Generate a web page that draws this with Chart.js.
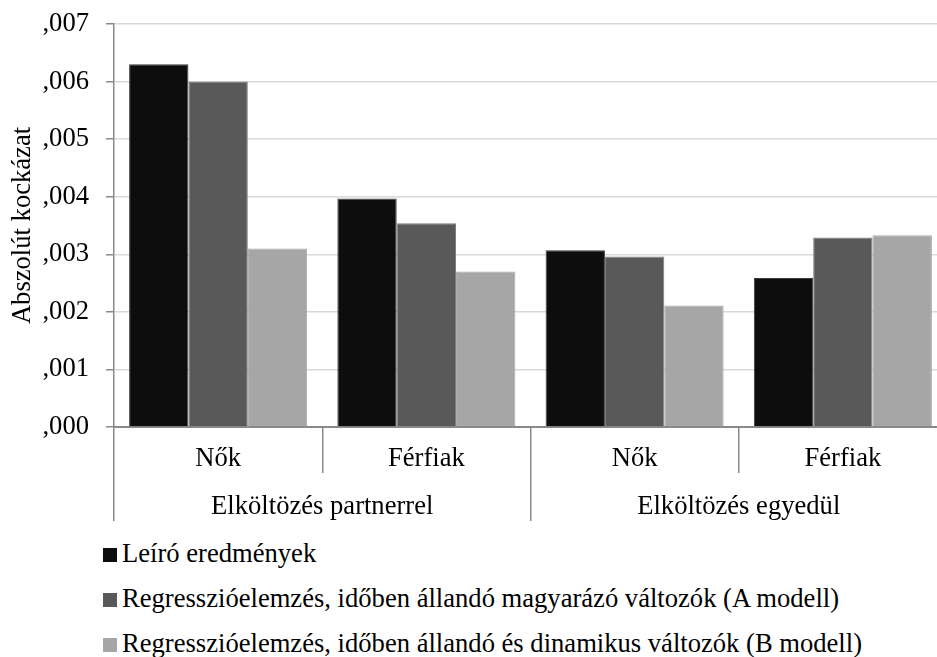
<!DOCTYPE html>
<html>
<head>
<meta charset="utf-8">
<script src="https://cdn.jsdelivr.net/npm/chart.js@4/dist/chart.umd.min.js"></script>
<style>
  body {
    margin: 0; background: #fff; width: 937px; height: 657px; overflow: hidden;
    position: relative; font-family: 'Liberation Serif', serif; font-size: 26.6px; color: #000;
  }
  #wrap { position: absolute; left: 0; top: 0; width: 950px; height: 530px; }
  #legend { position: absolute; left: 103px; top: 531px; }
  #legend div { line-height: 45px; white-space: nowrap; }
  #legend span.box {
    display: inline-block; width: 14px; height: 14px; margin-right: 5px;
    vertical-align: baseline;
  }
</style>
</head>
<body>
<div id="wrap"><canvas id="chart"></canvas></div>
<div id="legend"></div>

<script>
const categories = ['Nők', 'Férfiak', 'Nők', 'Férfiak'];
const groups = ['Elköltözés partnerrel', 'Elköltözés egyedül'];
const yTickLabels = [',000', ',001', ',002', ',003', ',004', ',005', ',006', ',007'];

const seriesNames = [
  'Leíró eredmények',
  'Regresszióelemzés, időben állandó magyarázó változók (A modell)',
  'Regresszióelemzés, időben állandó és dinamikus változók (B modell)'
];
const descriptive = [0.0063, 0.00397, 0.00307, 0.00259];
const modelA = [0.0060, 0.00354, 0.00296, 0.00329];
const modelB = [0.0031, 0.00270, 0.00211, 0.00333];

const fills = ['#0d0d0d', '#595959', '#a6a6a6'];
const edges = ['#3c3c3c', '#7a7a7a', '#a6a6a6'];
const axisGray = '#898989';
const gridGray = '#d9d9d9';

Chart.defaults.font.family = "'Liberation Serif', serif";
Chart.defaults.font.size = 26.6;
Chart.defaults.color = '#000';

const datasets = [descriptive, modelA, modelB].map((values, i) => ({
  label: seriesNames[i],
  data: values,
  backgroundColor: fills[i],
  borderColor: edges[i],
  borderWidth: 1,
  categoryPercentage: 0.855,
  barPercentage: 1
}));

const chart = new Chart(document.getElementById('chart'), {
  type: 'bar',
  data: { labels: categories, datasets },
  options: {
    responsive: true,
    maintainAspectRatio: false,
    animation: false,
    layout: { padding: { top: 24, left: 3, right: 3, bottom: 9 } },
    plugins: {
      legend: { display: false },
      tooltip: { enabled: false }
    },
    scales: {
      y: {
        min: 0,
        max: 0.007,
        ticks: {
          stepSize: 0.001,
          padding: 17,
          callback: (value, index) => yTickLabels[index]
        },
        grid: {
          color: (c) => (c.tick && c.tick.value === 0 ? axisGray : gridGray),
          lineWidth: 1.5,
          tickColor: axisGray,
          tickLength: 8
        },
        border: { color: axisGray, width: 1.5 },
        title: {
          display: true,
          text: 'Abszolút kockázat',
          padding: { top: 4, bottom: 4 }
        },
        afterFit: (scale) => {
          scale.width = 111;
          scale.paddingTop = 0;
          scale.paddingBottom = 0;
        }
      },
      x: {
        ticks: { padding: -30, autoSkip: false, maxRotation: 0 },
        grid: {
          offset: true,
          drawOnChartArea: false,
          color: axisGray,
          lineWidth: 1.5,
          tickLength: 46
        },
        border: { color: axisGray, width: 2 },
        afterFit: (scale) => {
          scale.height = 46;
          scale.paddingLeft = 0;
          scale.paddingRight = 0;
        }
      },
      x2: {
        type: 'category',
        position: 'bottom',
        weight: 1,
        labels: groups,
        offset: true,
        ticks: { padding: -30, autoSkip: false, maxRotation: 0 },
        grid: {
          offset: true,
          drawOnChartArea: false,
          color: axisGray,
          lineWidth: 1.5,
          tickLength: 48
        },
        border: { display: false },
        afterFit: (scale) => {
          scale.height = 48;
          scale.paddingLeft = 0;
          scale.paddingRight = 0;
        }
      }
    }
  }
});

// legend below the plot, one series per line
const legendEl = document.getElementById('legend');
chart.data.datasets.forEach((ds) => {
  const row = document.createElement('div');
  const box = document.createElement('span');
  box.className = 'box';
  box.style.background = ds.backgroundColor;
  row.appendChild(box);
  row.appendChild(document.createTextNode(ds.label));
  legendEl.appendChild(row);
});
</script>
</body>
</html>
